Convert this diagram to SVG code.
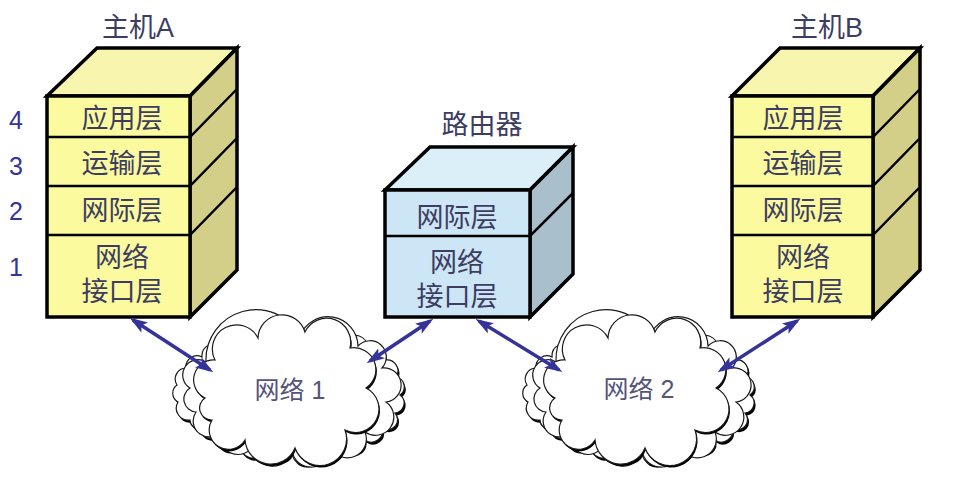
<svg xmlns="http://www.w3.org/2000/svg" xmlns:xlink="http://www.w3.org/1999/xlink" width="958" height="483" viewBox="0 0 958 483">
  <style>
    .edge { stroke: #000; stroke-width: 3.5; stroke-linejoin: miter; }
    .div { stroke: #000; stroke-width: 2.5; fill: none; }
    .yfront { fill: #FBFA9E; }
    .ytop { fill: #F8F5AE; }
    .yside { fill: #D3CF89; }
    .bfront { fill: #CDE6F5; }
    .btop { fill: #DBEFF9; }
    .bside { fill: #A9BFCC; }
    .lbl { font-family: "Liberation Sans", "Noto Sans CJK SC", sans-serif; font-size: 27px; fill: #3D3D62; text-anchor: middle; }
    .title { font-family: "Liberation Sans", "Noto Sans CJK SC", sans-serif; font-size: 27px; fill: #3D3D62; text-anchor: middle; }
    .num { font-family: "Liberation Sans", sans-serif; font-size: 25px; fill: #34349A; text-anchor: middle; }
    .netlbl { font-family: "Liberation Sans", "Noto Sans CJK SC", sans-serif; font-size: 25px; fill: #55557A; text-anchor: middle; }
    .link { stroke: #33339A; stroke-width: 3.5; fill: none; marker-start: url(#ah); marker-end: url(#ah); }
    .cl { fill: #fff; stroke: #1a1a1a; stroke-width: 1.2; }
    .cs { fill: #000; }
  </style>
  <defs>
    <marker id="ah" viewBox="0 0 18 12" refX="14" refY="6" markerWidth="18" markerHeight="12" markerUnits="userSpaceOnUse" orient="auto-start-reverse">
      <path d="M0,0 L18,6 L0,12 L4,6 z" fill="#33339A"/>
    </marker>
    <!-- layered cloud outline: back shell, middle shell, front shell -->
    <path id="cloudBack" d="M190,420 A12,12 0 0 1 178,402 A10,10 0 0 1 177,385 A11,11 0 0 1 186,368 A11,11 0 0 1 202,357 A12,12 0 0 1 222,347 A45,45 0 0 1 300,338 A25,25 0 0 1 345,340 A13,13 0 0 1 368,348 A11,11 0 0 1 385,360 A11,11 0 0 1 396,377 A10,10 0 0 1 400,395 A10,10 0 0 1 395,413 A10,10 0 0 1 382,428 A11,11 0 0 1 365,440 A12,12 0 0 1 343,448 A13,13 0 0 1 318,452 A13,13 0 0 1 292,452 A14,14 0 0 1 265,450 A13,13 0 0 1 240,444 A12,12 0 0 1 218,434 A10,10 0 0 1 200,428 A8,8 0 0 1 190,420 Z"/>
    <path id="cloudMid" d="M196,412 A13,13 0 0 1 190,388 A14,14 0 0 1 206,362 A50,50 0 0 1 300,336 A30,30 0 0 1 358,346 A16,16 0 0 1 382,368 A16,16 0 0 1 386,402 A16,16 0 0 1 365,432 A18,18 0 0 1 330,446 A19,19 0 0 1 292,450 A19,19 0 0 1 254,444 A17,17 0 0 1 222,430 A14,14 0 0 1 196,412 Z"/>
    <path id="cloudFront" d="M205,398 A20,20 0 0 1 215,360 A24,24 0 0 1 258,338 A24,24 0 0 1 305,332 A24,24 0 0 1 350,348 A22,22 0 0 1 366,388 A23,23 0 0 1 345,430 A26,26 0 0 1 295,448 A26,26 0 0 1 245,440 A19,19 0 0 1 212,420 A12,12 0 0 1 205,398 Z"/>
    <g id="cloud">
      <use href="#cloudBack" class="cs" transform="translate(1.5,2.5)"/>
      <use href="#cloudBack" class="cl"/>
      <use href="#cloudMid" class="cl"/>
      <use href="#cloudFront" class="cs" transform="translate(1,2)"/>
      <use href="#cloudFront" class="cl"/>
    </g>
  </defs>

  <rect width="958" height="483" fill="#fff"/>

  <!-- layer numbers -->
  <g id="layer-numbers">
    <text class="num" x="16" y="129">4</text>
    <text class="num" x="16" y="175">3</text>
    <text class="num" x="16" y="220">2</text>
    <text class="num" x="16" y="276">1</text>
  </g>

  <!-- host A -->
  <g id="hostA">
    <text class="title" x="138" y="37">主机A</text>
    <polygon class="ytop edge" points="47,96 97,48 237,48 190,96"/>
    <polygon class="yside edge" points="190,96 237,48 237,270 190,317"/>
    <rect class="yfront edge" x="47" y="96" width="143" height="221"/>
    <path class="div" d="M47,137 H190 L237,89 M47,186 H190 L237,138 M47,235 H190 L237,187"/>
    <text class="lbl" x="122" y="128">应用层</text>
    <text class="lbl" x="122" y="173">运输层</text>
    <text class="lbl" x="122" y="220">网际层</text>
    <text class="lbl" x="122" y="267">网络<tspan x="122" dy="34">接口层</tspan></text>
  </g>

  <!-- router -->
  <g id="router">
    <text class="title" x="482" y="134">路由器</text>
    <polygon class="btop edge" points="385,190 430,147 573,147 530,190"/>
    <polygon class="bside edge" points="530,190 573,147 573,274 530,317"/>
    <rect class="bfront edge" x="385" y="190" width="145" height="127"/>
    <path class="div" d="M385,236 H530 L573,193"/>
    <text class="lbl" x="457" y="227">网际层</text>
    <text class="lbl" x="457" y="272">网络<tspan x="457" dy="34">接口层</tspan></text>
  </g>

  <!-- host B -->
  <g id="hostB">
    <text class="title" x="827" y="37">主机B</text>
    <polygon class="ytop edge" points="732,96 780,48 920,48 873,96"/>
    <polygon class="yside edge" points="873,96 920,48 920,270 873,317"/>
    <rect class="yfront edge" x="732" y="96" width="141" height="221"/>
    <path class="div" d="M732,137 H873 L920,89 M732,186 H873 L920,138 M732,235 H873 L920,187"/>
    <text class="lbl" x="803" y="128">应用层</text>
    <text class="lbl" x="803" y="173">运输层</text>
    <text class="lbl" x="803" y="220">网际层</text>
    <text class="lbl" x="803" y="267">网络<tspan x="803" dy="34">接口层</tspan></text>
  </g>

  <!-- networks -->
  <g id="net1">
    <use href="#cloud"/>
    <text class="netlbl" x="290" y="399">网络 1</text>
  </g>
  <g id="net2">
    <use href="#cloud" transform="translate(350,0)"/>
    <text class="netlbl" x="639" y="398">网络 2</text>
  </g>

  <!-- links -->
  <g id="connectors">
    <line class="link" x1="133" y1="320" x2="210" y2="370"/>
    <line class="link" x1="430" y1="321" x2="370" y2="361"/>
    <line class="link" x1="479" y1="321" x2="559" y2="370"/>
    <line class="link" x1="797" y1="321" x2="721" y2="370"/>
  </g>
</svg>
